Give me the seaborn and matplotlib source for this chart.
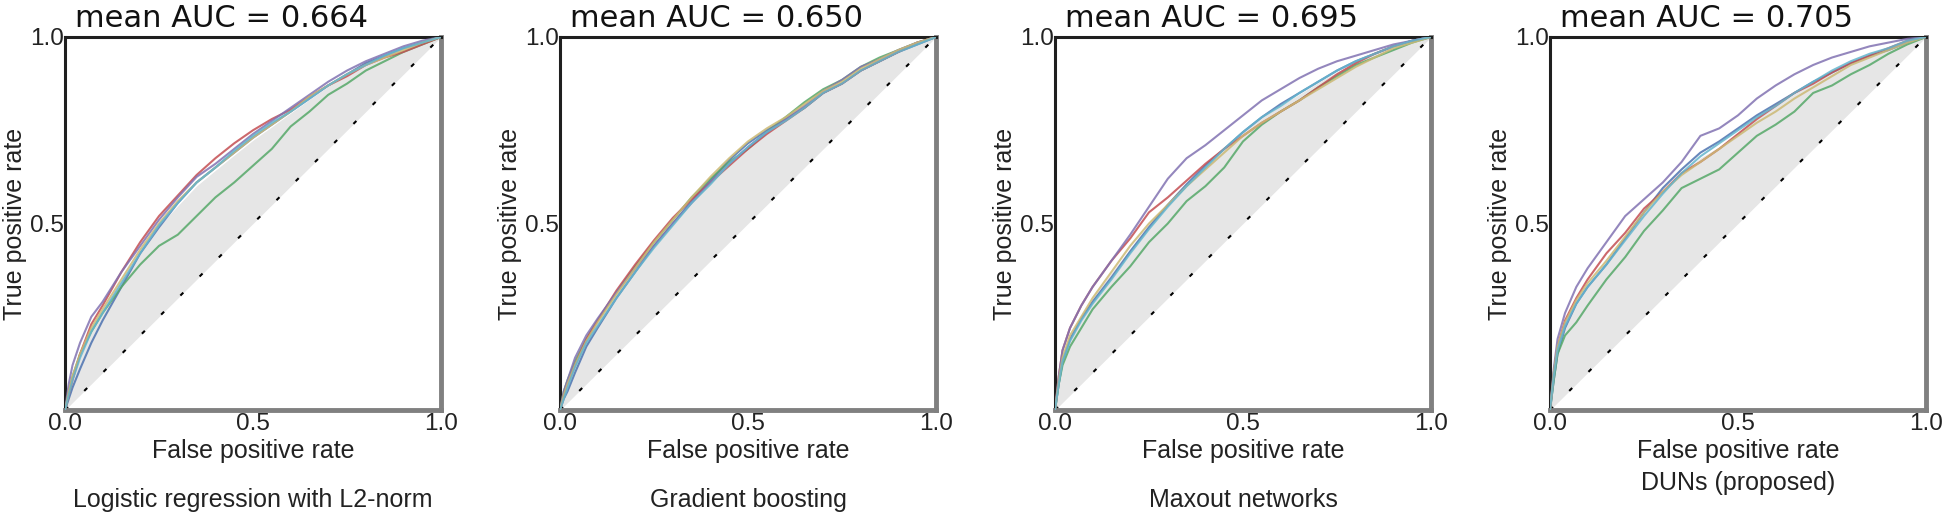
import numpy as np
import pandas as pd
import matplotlib
matplotlib.use("Agg")
import matplotlib.pyplot as plt
import seaborn as sns

# ---------------- data ----------------
FPR = [0, .01, .02, .04, .07, .1, .15, .2, .25, .3, .35, .4, .45, .5,
       .55, .6, .65, .7, .75, .8, .85, .9, .95, 1.0]

# Logistic regression with L2-norm
lr_blue   = [0, .03, .06, .11, .18, .24, .33, .42, .49, .555, .61, .65, .69, .73, .765, .80, .835, .87, .90, .93, .95, .97, .985, 1]
lr_green  = [0, .05, .09, .15, .21, .26, .33, .39, .44, .47, .52, .57, .61, .655, .70, .76, .80, .845, .875, .91, .935, .96, .98, 1]
lr_red    = [0, .04, .08, .15, .23, .28, .37, .45, .52, .575, .63, .675, .715, .75, .78, .805, .84, .87, .895, .925, .945, .96, .98, 1]
lr_purple = [0, .07, .12, .18, .25, .29, .37, .44, .51, .57, .625, .66, .70, .74, .775, .81, .845, .88, .91, .935, .955, .975, .99, 1]
lr_yellow = [0, .05, .09, .15, .22, .27, .35, .43, .50, .56, .61, .65, .69, .73, .765, .80, .84, .87, .90, .925, .945, .965, .985, 1]
lr_cyan   = [0, .04, .08, .14, .21, .26, .34, .42, .495, .555, .61, .65, .695, .735, .77, .80, .835, .87, .90, .925, .95, .97, .985, 1]

# Gradient boosting
gb_blue   = [0, .03, .05, .10, .17, .22, .30, .37, .44, .50, .56, .615, .67, .715, .75, .78, .81, .85, .875, .91, .935, .96, .98, 1]
gb_green  = [0, .05, .08, .13, .19, .24, .315, .385, .45, .51, .57, .62, .665, .70, .745, .785, .825, .86, .885, .92, .945, .965, .985, 1]
gb_red    = [0, .04, .07, .12, .19, .24, .32, .39, .455, .515, .565, .61, .655, .70, .74, .775, .81, .85, .875, .91, .935, .96, .985, 1]
gb_purple = [0, .05, .08, .14, .20, .245, .315, .38, .44, .50, .555, .61, .66, .705, .745, .78, .815, .855, .885, .92, .94, .965, .985, 1]
gb_yellow = [0, .04, .07, .12, .185, .235, .31, .38, .45, .51, .57, .625, .675, .72, .755, .785, .82, .855, .88, .915, .94, .965, .985, 1]
gb_cyan   = [0, .03, .06, .115, .18, .225, .30, .37, .435, .495, .555, .605, .66, .705, .745, .775, .81, .85, .875, .91, .935, .96, .98, 1]

# Maxout networks
mx_blue   = [0, .07, .13, .19, .245, .29, .355, .425, .49, .55, .605, .655, .70, .745, .785, .82, .85, .88, .91, .935, .955, .975, .99, 1]
mx_green  = [0, .07, .12, .17, .22, .27, .33, .385, .45, .50, .56, .60, .65, .72, .765, .80, .83, .865, .895, .925, .945, .965, .985, 1]
mx_red    = [0, .09, .16, .22, .28, .33, .40, .46, .53, .57, .615, .66, .70, .735, .77, .80, .83, .865, .90, .93, .955, .975, .99, 1]
mx_purple = [0, .09, .16, .22, .28, .33, .40, .47, .545, .62, .675, .71, .75, .79, .83, .86, .89, .915, .935, .95, .965, .98, .99, 1]
mx_yellow = [0, .08, .14, .20, .25, .30, .37, .44, .50, .55, .60, .645, .69, .735, .77, .80, .83, .86, .89, .92, .945, .97, .985, 1]
mx_cyan   = [0, .07, .13, .185, .24, .285, .35, .42, .485, .545, .60, .65, .70, .745, .785, .815, .85, .88, .91, .935, .955, .975, .99, 1]

# DUNs (proposed)
du_blue   = [0, .08, .15, .22, .285, .33, .39, .46, .53, .595, .645, .69, .72, .755, .79, .82, .85, .88, .905, .93, .95, .965, .985, 1]
du_green  = [0, .08, .15, .20, .235, .28, .35, .41, .48, .535, .595, .62, .645, .69, .735, .765, .80, .85, .87, .90, .925, .955, .98, 1]
du_red    = [0, .10, .17, .24, .30, .35, .42, .475, .54, .585, .635, .665, .70, .74, .78, .815, .85, .875, .905, .93, .95, .97, .99, 1]
du_purple = [0, .11, .19, .26, .33, .38, .45, .52, .565, .61, .665, .735, .755, .79, .835, .87, .90, .925, .945, .96, .975, .985, .995, 1]
du_yellow = [0, .10, .17, .235, .295, .34, .40, .465, .53, .585, .63, .665, .70, .735, .77, .80, .835, .865, .895, .925, .945, .965, .985, 1]
du_cyan   = [0, .09, .16, .225, .285, .33, .39, .455, .52, .58, .635, .68, .715, .75, .785, .815, .85, .88, .91, .935, .955, .97, .99, 1]

TITLES = ["mean AUC = 0.664", "mean AUC = 0.650", "mean AUC = 0.695", "mean AUC = 0.705"]
SUBTITLES = ["Logistic regression with L2-norm", "Gradient boosting",
             "Maxout networks", "DUNs (proposed)"]
PANELS = [
    [lr_blue, lr_green, lr_red, lr_purple, lr_yellow, lr_cyan],
    [gb_blue, gb_green, gb_red, gb_purple, gb_yellow, gb_cyan],
    [mx_blue, mx_green, mx_red, mx_purple, mx_yellow, mx_cyan],
    [du_blue, du_green, du_red, du_purple, du_yellow, du_cyan],
]
FOLD_COLORS = ["#4C72B0", "#55A868", "#C44E52", "#8172B2", "#CCB974", "#64B5CD"]
TICKS_X = [0.0, 0.5, 1.0]
TICKS_Y = [0.5, 1.0]

# ---------------- style ----------------
sns.set_style("white")
plt.rcParams["font.family"] = ["Liberation Sans", "DejaVu Sans"]

W, H = 1946, 517
fig = plt.figure(figsize=(W / 100, H / 100), dpi=100)

lefts_px = [65, 560, 1055, 1550]
ax_w_px, ax_h_px = 376, 373
bottom_px = 410

for i, curves in enumerate(PANELS):
    ax = fig.add_axes([lefts_px[i] / W, (H - bottom_px) / H, ax_w_px / W, ax_h_px / H])
    rows = []
    for k, tpr in enumerate(curves):
        for x, y in zip(FPR, tpr):
            rows.append({"fpr": x, "tpr": y, "fold": k})
    df = pd.DataFrame(rows)
    mean_tpr = df.groupby("fpr")["tpr"].mean().reindex(FPR).values

    ax.fill_between(FPR, FPR, mean_tpr, color="#e6e6e6", lw=0, zorder=1)
    ax.plot([0, 1], [0, 1], color="k", lw=1.5, dashes=(2, 11), zorder=2)
    sns.lineplot(data=df, x="fpr", y="tpr", hue="fold", palette=FOLD_COLORS,
                 estimator=None, sort=False, legend=False, ax=ax,
                 lw=1.5, alpha=0.85, zorder=3)

    ax.set_xlim(0, 1)
    ax.set_ylim(0, 1)
    ax.set_xticks(TICKS_X)
    ax.set_xticklabels(["0.0", "0.5", "1.0"])
    ax.set_yticks(TICKS_Y)
    ax.set_yticklabels(["0.5", "1.0"])
    ax.tick_params(axis="both", length=0, labelsize=17.5, colors="#222222")
    ax.tick_params(axis="x", pad=2)
    ax.tick_params(axis="y", pad=1)
    ax.set_xlabel("False positive rate", fontsize=18, color="#222222", labelpad=3)
    ax.set_ylabel("True positive rate", fontsize=18, color="#222222", labelpad=2)

    for side in ["left", "top"]:
        ax.spines[side].set_color("#1f1f1f")
        ax.spines[side].set_linewidth(2.2)
    for side in ["right", "bottom"]:
        ax.spines[side].set_color("#808080")
        ax.spines[side].set_linewidth(3.5)
    for s in ax.spines.values():
        s.set_visible(True)

    ax.text(0.027, 1.027, TITLES[i], transform=ax.transAxes, ha="left",
            va="baseline", fontsize=22, family="DejaVu Sans", color="#111111")
    sub_y = -0.196 if i == 3 else -0.241
    ax.text(0.5, sub_y, SUBTITLES[i], transform=ax.transAxes, ha="center",
            va="center", fontsize=18, color="#222222")

fig.savefig("out.png", dpi=100)
